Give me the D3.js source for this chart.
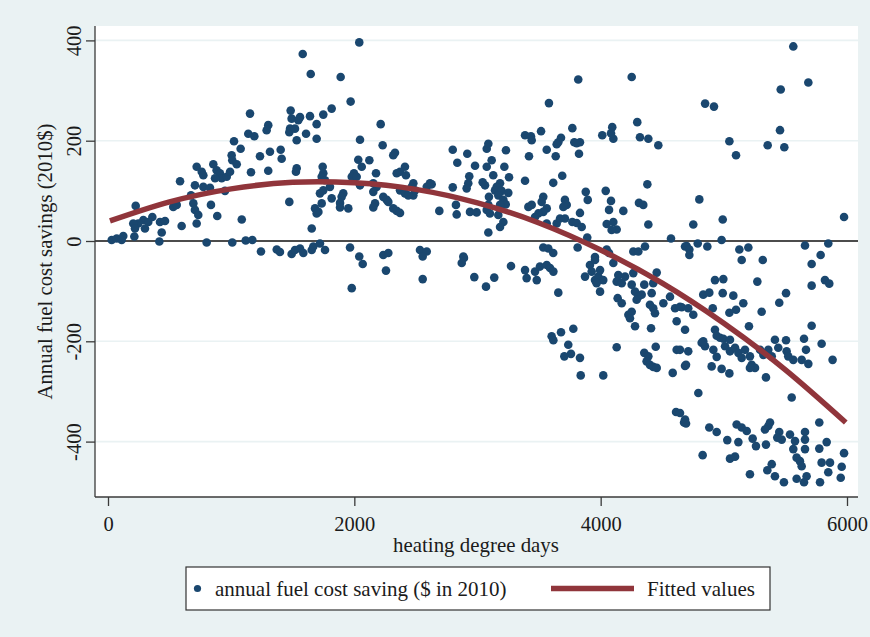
<!DOCTYPE html>
<html>
<head>
<meta charset="utf-8">
<script src="https://cdn.jsdelivr.net/npm/d3@7/dist/d3.min.js"></script>
<style>
  html, body { margin: 0; padding: 0; background: #eaf2f3; }
  svg { display: block; }
  text { font-family: "Liberation Serif", "Times New Roman", serif; fill: #1b1b1b; }
</style>
</head>
<body>
<svg id="chart" width="870" height="637"></svg>
<script>
// Heating degree days of each home
const hdd = [
  1153,1301,1288,1139,1188,1483,1491,1478,1472,1023,1077,1234,1315,1402,1410,1004,1009,1045,720,761,
  774,855,882,909,923,869,964,991,1161,1301,585,706,774,828,950,1472,674,693,706,733,
  720,836,887,530,558,225,360,287,327,246,205,219,300,422,463,436,598,1086,214,30,
  71,124,111,417,801,1009,1118,1172,1242,1370,1396,1491,2040,1581,1646,1889,1970,1816,1748,1694,
  1640,1559,1545,1518,1532,1608,1694,2214,2046,2230,2330,2316,2032,2122,2060,1532,1526,1743,1748,1735,
  1762,1997,1979,2019,2176,2411,2371,2344,2419,2799,2917,2836,2980,3075,3088,3075,2933,2925,2912,3042,
  3061,2799,2614,2588,2628,2479,2466,2493,2479,2371,2411,2438,2154,2181,2154,2046,1802,1816,1721,1748,
  1910,1897,1884,2235,2263,2276,2168,2154,2316,2344,2371,1681,1708,1735,1694,1884,1951,2690,2825,2831,
  2939,2993,3075,1654,3088,1559,1586,1654,1667,1721,1762,1518,1965,2040,2235,2276,2533,2588,2885,2068,
  1979,2257,2555,2555,2872,2890,2974,3069,3818,4252,3580,4297,3516,3770,3386,3434,3440,3678,3656,3643,
  3786,3832,3805,4013,4094,4103,4084,4319,4387,4468,3231,3562,3418,3635,3824,3115,3218,3128,3256,3183,
  3156,3142,3196,3169,3210,3229,3183,3250,3386,3688,3615,3093,3101,3088,3169,3210,3183,3413,3440,3534,
  3521,3562,3534,3494,3467,3710,3724,3697,3562,3643,3670,3710,3770,3805,3846,3832,3879,3895,4041,4084,
  4068,4184,4049,4103,4130,4089,4311,4346,4379,4387,3891,4571,4685,3534,3575,3615,3813,3954,4049,4068,
  4265,4306,4360,3136,3272,3386,3399,3467,3481,3507,3562,3589,3616,3656,3873,3913,3927,3954,3981,3995,
  4021,3967,3954,3995,4103,4143,4130,4171,4198,4265,4252,4279,4306,4292,4333,4354,4427,4455,4414,4400,
  4427,4441,4509,4563,4138,4171,4225,4252,4238,4279,4409,4604,4658,4617,4685,3602,3616,3678,3778,3737,
  3759,3705,3832,3838,4021,4130,4354,4387,4373,4400,4427,4455,4447,4585,4617,4685,4612,4677,5564,5686,
  5462,4848,4920,5456,5045,5099,5356,5491,4801,4752,4991,5976,4698,4720,4720,4788,4866,4982,5126,5199,
  5659,5848,5786,5145,5316,5713,4928,4996,5272,5821,5856,5713,4833,4882,4991,5077,5505,5450,4644,4711,
  4752,4910,5158,5099,5045,5307,5204,5713,4928,4942,4969,4996,5050,4820,4847,4833,4644,4711,4915,4942,
  5010,5050,5091,5118,5145,5172,5212,5226,5253,5294,5321,5361,5389,5415,5442,5505,5510,5523,5564,5632,
  5651,5667,5686,5794,5883,4693,4901,4982,5045,5342,5212,4793,5551,4644,4685,4693,4882,4942,5028,5118,
  5104,5145,5186,5234,5261,5342,5361,5375,5334,5450,5470,5434,5537,5578,5564,5659,5659,5659,5591,5618,
  5632,5775,5835,5775,5976,4828,5050,5091,5389,5353,5415,5212,5488,5591,5672,5651,5781,5794,5862,5848,
  5957,5949
];

// Annual fuel cost saving ($ in 2010), same order as hdd
const saving = [
  254,231,221,214,209,260,244,224,217,199,184,169,178,182,164,171,161,153,148,138,
  131,153,141,135,125,125,128,138,137,140,119,111,108,106,100,78,91,75,62,52,
  35,72,50,68,72,70,48,42,38,35,35,25,25,38,40,17,30,43,9,2,
  5,10,2,-1,-3,-3,1,2,-21,-17,-22,-26,396,373,333,327,278,264,252,233,
  249,247,241,224,201,214,204,233,202,191,176,171,162,161,148,145,138,148,135,128,
  121,135,128,128,135,148,138,135,131,182,174,156,150,184,194,148,129,115,105,117,
  111,107,115,108,113,115,108,101,91,101,95,91,115,108,98,111,108,85,95,101,
  95,88,76,88,82,78,75,67,65,60,56,65,58,75,55,67,65,60,72,53,
  58,57,62,25,17,-15,-24,-18,-11,-5,-18,-18,-13,-31,-28,-24,-18,-21,-31,-46,
  -94,-59,-31,-76,-44,-34,-72,-91,322,327,275,237,219,225,211,209,201,206,197,193,
  197,197,195,211,227,204,215,207,204,191,181,182,169,169,174,161,148,131,127,115,
  108,101,100,91,82,73,72,96,120,130,116,88,55,72,52,38,28,68,72,88,
  78,65,58,55,48,82,72,68,35,35,45,45,38,36,28,56,98,82,100,80,
  62,60,34,38,23,22,76,72,113,33,7,5,-11,-13,-15,-24,-13,-32,-17,-24,
  -21,-21,-11,-73,-50,-58,-74,-61,-78,-51,-48,-54,-61,-103,-71,-48,-61,-78,-71,-58,
  -78,-84,-38,-101,-44,-68,-81,-84,-71,-64,-87,-101,-111,-117,-107,-87,-84,-63,-104,-127,
  -134,-144,-124,-111,-114,-124,-147,-141,-154,-170,-174,-134,-132,-160,-177,-190,-198,-182,-175,-207,
  -225,-230,-233,-268,-268,-212,-223,-230,-240,-247,-251,-253,-211,-263,-217,-249,-341,-362,388,316,
  302,274,268,221,199,171,191,187,83,33,43,48,-10,-17,-28,-5,-11,2,-17,-13,
  -9,-5,-28,-38,-38,-46,-78,-76,-81,-78,-85,-89,-107,-103,-104,-109,-104,-123,-131,-134,
  -147,-134,-124,-137,-143,-141,-170,-169,-177,-189,-193,-195,-197,-203,-210,-200,-217,-220,-217,-231,
  -210,-220,-213,-223,-233,-217,-230,-247,-253,-217,-227,-217,-230,-197,-213,-198,-220,-230,-237,-237,
  -195,-217,-245,-205,-237,-247,-250,-255,-264,-272,-253,-303,-312,-343,-356,-364,-372,-381,-397,-401,
  -366,-372,-379,-394,-409,-406,-369,-362,-376,-381,-396,-392,-386,-399,-415,-381,-396,-415,-432,-439,
  -449,-362,-401,-414,-423,-427,-434,-430,-445,-457,-469,-465,-481,-474,-469,-481,-481,-442,-442,-461,
  -450,-472
];

// Quadratic fit evaluated along the hdd range
const fitHdd   = [16, 500, 1000, 1500, 2000, 2500, 3000, 3500, 4000, 4500, 5000, 5500, 5990];
const fitValue = [40, 78, 104, 117, 116, 103, 76, 36, -18, -84, -164, -257, -362];

const xTicks = [0, 2000, 4000, 6000];
const yTicks = [-400, -200, 0, 200, 400];

const navy = "#1a476f";
const maroon = "#90353b";
const gridColor = "#eaf2f3";

const svg = d3.select("#chart");

// Plot region
const plot = { left: 95, right: 858, top: 26, bottom: 497 };

const x = d3.scaleLinear().domain([0, 6000]).range([108, 847]);
const y = d3.scaleLinear().domain([-400, 400]).range([441.6, 40.4]);

// Plain hyphen-minus for negative tick labels
const plainFormat = d => String(d);

svg.append("rect")
  .attr("x", 0).attr("y", 0).attr("width", 870).attr("height", 637)
  .attr("fill", "#eaf2f3");

svg.append("rect")
  .attr("x", plot.left).attr("y", plot.top)
  .attr("width", plot.right - plot.left).attr("height", plot.bottom - plot.top)
  .attr("fill", "#ffffff");

// Horizontal grid lines
svg.append("g")
  .selectAll("line")
  .data(yTicks.filter(d => d !== 0))
  .join("line")
  .attr("x1", plot.left).attr("x2", plot.right)
  .attr("y1", d => y(d)).attr("y2", d => y(d))
  .attr("stroke", gridColor).attr("stroke-width", 1.6);

// Reference line at zero
svg.append("line")
  .attr("x1", plot.left).attr("x2", plot.right)
  .attr("y1", y(0)).attr("y2", y(0))
  .attr("stroke", "#111").attr("stroke-width", 1.6);

// Scatter points
const points = hdd.map((h, i) => ({ h, s: saving[i] }));
svg.append("g")
  .selectAll("circle")
  .data(points)
  .join("circle")
  .attr("cx", d => x(d.h))
  .attr("cy", d => y(d.s))
  .attr("r", 4.3)
  .attr("fill", navy);

// Fitted curve
const fit = fitHdd.map((h, i) => ({ h, v: fitValue[i] }));
svg.append("path")
  .datum(fit)
  .attr("fill", "none")
  .attr("stroke", maroon)
  .attr("stroke-width", 5.5)
  .attr("stroke-linecap", "butt")
  .attr("d", d3.line().x(d => x(d.h)).y(d => y(d.v)).curve(d3.curveNatural));

// Axes
const axisColor = "#3a3a3a";

const xAxis = svg.append("g")
  .attr("transform", `translate(0,${plot.bottom})`)
  .call(d3.axisBottom(x).tickValues(xTicks).tickSize(9).tickSizeOuter(0).tickFormat(plainFormat));
xAxis.select(".domain").remove();
xAxis.selectAll(".tick line").attr("stroke", axisColor).attr("stroke-width", 1.3);
xAxis.selectAll(".tick text")
  .attr("y", null).attr("dy", null)
  .attr("transform", "translate(0,34)")
  .attr("font-size", 20.5)
  .attr("fill", "#1b1b1b");

const yAxis = svg.append("g")
  .attr("transform", `translate(${plot.left},0)`)
  .call(d3.axisLeft(y).tickValues(yTicks).tickSize(9).tickSizeOuter(0).tickFormat(plainFormat));
yAxis.select(".domain").remove();
yAxis.selectAll(".tick line").attr("stroke", axisColor).attr("stroke-width", 1.3);
yAxis.selectAll(".tick text")
  .attr("x", null).attr("dy", null)
  .attr("text-anchor", "middle")
  .attr("transform", "translate(-14,0) rotate(-90)")
  .attr("font-size", 20.5)
  .attr("fill", "#1b1b1b");

// Axis lines spanning the plot region
svg.append("line")
  .attr("x1", plot.left).attr("x2", plot.left)
  .attr("y1", plot.top).attr("y2", plot.bottom)
  .attr("stroke", axisColor).attr("stroke-width", 1.3);
svg.append("line")
  .attr("x1", plot.left).attr("x2", plot.right)
  .attr("y1", plot.bottom).attr("y2", plot.bottom)
  .attr("stroke", axisColor).attr("stroke-width", 1.3);

// Axis titles
svg.append("text")
  .attr("transform", `translate(52,${(plot.top + plot.bottom) / 2}) rotate(-90)`)
  .attr("text-anchor", "middle")
  .attr("font-size", 20.8)
  .text("Annual fuel cost savings (2010$)");

svg.append("text")
  .attr("x", 476).attr("y", 552)
  .attr("text-anchor", "middle")
  .attr("font-size", 20.9)
  .text("heating degree days");

// Legend
const legend = svg.append("g");
legend.append("rect")
  .attr("x", 186).attr("y", 567).attr("width", 584).attr("height", 43)
  .attr("fill", "#ffffff").attr("stroke", "#333").attr("stroke-width", 1.2);
legend.append("circle")
  .attr("cx", 197.5).attr("cy", 588.5).attr("r", 3.6).attr("fill", navy);
legend.append("text")
  .attr("x", 215).attr("y", 595.5)
  .attr("font-size", 21)
  .text("annual fuel cost saving ($ in 2010)");
legend.append("line")
  .attr("x1", 551).attr("x2", 634).attr("y1", 588.5).attr("y2", 588.5)
  .attr("stroke", maroon).attr("stroke-width", 5.5);
legend.append("text")
  .attr("x", 647).attr("y", 595.5)
  .attr("font-size", 21)
  .text("Fitted values");
</script>
</body>
</html>
